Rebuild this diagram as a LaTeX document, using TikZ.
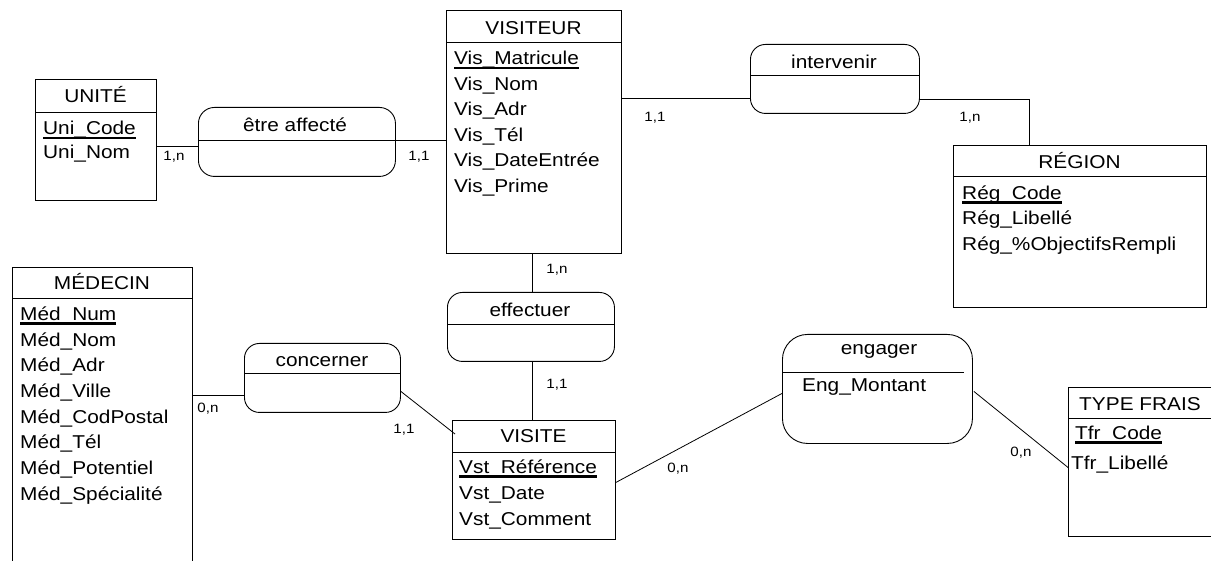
\documentclass[tikz,border=0pt]{standalone}
\usepackage{fontspec}
\setmainfont{Liberation Sans}[FakeStretch=1.12]
\usetikzlibrary{calc}
\tikzset{
  ent/.style={draw, line width=0.9pt, inner sep=0, anchor=north west},
  asso/.style={draw, line width=0.9pt, rounded corners=15pt, inner sep=0, anchor=north west},
  divl/.style={line width=0.9pt},
  ttl/.style={anchor=base, inner sep=0, font=\fontsize{18.6}{20}\selectfont},
  att/.style={anchor=base west, inner sep=0, font=\fontsize{18.6}{20}\selectfont},
  card/.style={inner sep=0, font=\fontsize{13.5}{15}\selectfont},
  link/.style={line width=0.8pt},
  ulin/.style={line width=2.4pt}
}
\begin{document}
\begin{tikzpicture}[x=1pt,y=-1pt]
\useasboundingbox (0,0) rectangle (1211,561);
\fill[white] (0,0) rectangle (1211,561);
\clip (0,0) rectangle (1211,561);

% ---------- entities ----------
% UNITE
\node[ent, minimum width=121pt, minimum height=121pt] (unite) at (35,79) {};
\draw[divl] (35,112) -- (156,112);
\node[ttl] (uniteT) at (95.5,103) {UNITÉ};
\node[att] (uni1) at (43,135) {Uni\_Code};
\draw[ulin] ([yshift=-3pt]uni1.base west) -- ([yshift=-3pt]uni1.base east);
\node[att] (uni2) at (43,159) {Uni\_Nom};

% VISITEUR
\node[ent, minimum width=175pt, minimum height=243pt] (vis) at (446,10) {};
\draw[divl] (446,42) -- (621,42);
\node[ttl] (visT) at (533.5,35) {VISITEUR};
\node[att] (vis1) at (454,65) {Vis\_Matricule};
\draw[ulin] ([yshift=-3pt]vis1.base west) -- ([yshift=-3pt]vis1.base east);
\node[att] (vis2) at (454,90.5) {Vis\_Nom};
\node[att] (vis3) at (454,116) {Vis\_Adr};
\node[att] (vis4) at (454,141.5) {Vis\_Tél};
\node[att] (vis5) at (454,167) {Vis\_DateEntrée};
\node[att] (vis6) at (454,192.5) {Vis\_Prime};

% REGION
\node[ent, minimum width=253pt, minimum height=162pt] (region) at (953,145) {};
\draw[divl] (953,176) -- (1206,176);
\node[ttl] (regT) at (1079.5,169) {RÉGION};
\node[att] (reg1) at (962,199.5) {Rég\_Code};
\draw[ulin] ([yshift=-3pt]reg1.base west) -- ([yshift=-3pt]reg1.base east);
\node[att] (reg2) at (962,225) {Rég\_Libellé};
\node[att] (reg3) at (962,250.5) {Rég\_\%ObjectifsRempli};

% MEDECIN
\node[ent, minimum width=180pt, minimum height=333pt] (medecin) at (12,267) {};
\draw[divl] (12,298) -- (192,298);
\node[ttl] (medT) at (102,290) {MÉDECIN};
\node[att] (med1) at (20,320.5) {Méd\_Num};
\draw[ulin] ([yshift=-3pt]med1.base west) -- ([yshift=-3pt]med1.base east);
\node[att] (med2) at (20,346.2) {Méd\_Nom};
\node[att] (med3) at (20,371.9) {Méd\_Adr};
\node[att] (med4) at (20,397.6) {Méd\_Ville};
\node[att] (med5) at (20,423.3) {Méd\_CodPostal};
\node[att] (med6) at (20,449) {Méd\_Tél};
\node[att] (med7) at (20,474.7) {Méd\_Potentiel};
\node[att] (med8) at (20,500.4) {Méd\_Spécialité};

% VISITE
\node[ent, minimum width=163pt, minimum height=119pt] (visite) at (452,420) {};
\draw[divl] (452,452) -- (615,452);
\node[ttl] (vstT) at (533.5,442.7) {VISITE};
\node[att] (vst1) at (459,473.3) {Vst\_Référence};
\draw[ulin] ([yshift=-3pt]vst1.base west) -- ([yshift=-3pt]vst1.base east);
\node[att] (vst2) at (459,499.3) {Vst\_Date};
\node[att] (vst3) at (459,525) {Vst\_Comment};

% TYPE FRAIS
\node[ent, minimum width=162pt, minimum height=149pt] (typefrais) at (1068,387) {};
\draw[divl] (1068,418) -- (1230,418);
\node[ttl] (tfrT) at (1140,410) {TYPE FRAIS};
\node[att] (tfr1) at (1075,439.3) {Tfr\_Code};
\draw[ulin] ([yshift=-3pt]tfr1.base west) -- ([yshift=-3pt]tfr1.base east);
\node[att] (tfr2) at (1071,469.3) {Tfr\_Libellé};

% ---------- associations ----------
\node[asso, rounded corners=16pt, minimum width=197pt, minimum height=69pt] (aff) at (198,107) {};
\draw[divl] (198,140) -- (395,140);
\node[ttl] (affT) at (295,131.7) {être affecté};

\node[asso, minimum width=169pt, minimum height=69pt] (interv) at (750,44) {};
\draw[divl] (750,75) -- (919,75);
\node[ttl] (intT) at (834,68.3) {intervenir};

\node[asso, minimum width=167pt, minimum height=69pt] (eff) at (447,292) {};
\draw[divl] (447,324) -- (614,324);
\node[ttl] (effT) at (530,316.7) {effectuer};

\node[asso, minimum width=156pt, minimum height=69pt] (conc) at (244,343) {};
\draw[divl] (244,373) -- (400,373);
\node[ttl] (concT) at (322,366.7) {concerner};

\node[asso, rounded corners=25pt, minimum width=190pt, minimum height=109pt] (eng) at (782,334) {};
\draw[divl] (782,372) -- (964,372);
\node[ttl] (engT) at (879,355) {engager};
\node[att] (eng1) at (802,391.7) {Eng\_Montant};

% ---------- connectors ----------
\draw[link] ($(unite.east)+(0,6.5)$) -- ($(aff.west)+(0,4.5)$);
\draw[link] ($(aff.east)+(0,-1.5)$) -- ($(vis.west)+(0,8.5)$);
\draw[link] ($(vis.east)+(0,-33.5)$) -- ($(interv.west)+(0,19.5)$);
\draw[link] ($(interv.east)+(0,20.5)$) -| ($(region.north)+(-50.5,0)$);
\draw[link] ($(vis.south)+(-2,0)$) -- ($(eff.north)+(1,0)$);
\draw[link] ($(eff.south)+(1,0)$) -- ($(visite.north)+(-2,0)$);
\draw[link] ($(medecin.east)+(0,-38.5)$) -- ($(conc.west)+(0,17.5)$);
\draw[link] ($(conc.east)+(0,13.5)$) -- ($(visite.north west)+(3,14)$);
\draw[link] ($(visite.east)+(0,2.5)$) -- ($(eng.west)+(0,4.5)$);
\draw[link] ($(eng.east)+(1,2.5)$) -- ($(typefrais.west)+(0,5.5)$);

% ---------- cardinalities ----------
\node[card] (c1) at (174,157) {1,n};
\node[card] (c2) at (419,157) {1,1};
\node[card] (c3) at (655,118) {1,1};
\node[card] (c4) at (970,118) {1,n};
\node[card] (c5) at (557,270) {1,n};
\node[card] (c6) at (557,385) {1,1};
\node[card] (c7) at (208,409) {0,n};
\node[card] (c8) at (404,430) {1,1};
\node[card] (c9) at (678,469) {0,n};
\node[card] (c10) at (1021,453) {0,n};
\end{tikzpicture}
\end{document}
